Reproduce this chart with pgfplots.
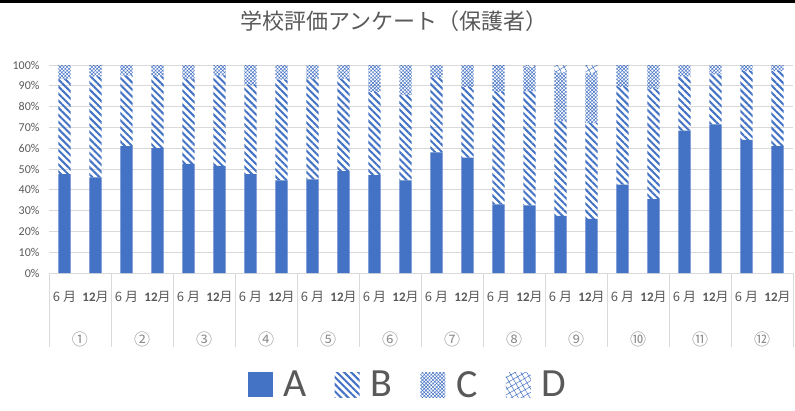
\documentclass[border=0pt]{standalone}
\usepackage{fontspec}
\setmainfont{Carlito}
\newfontfamily\jp{Noto Sans CJK JP}
\usepackage{pgfplots}
\pgfplotsset{compat=1.18}
\usepackage{pgfplotstable}
\usetikzlibrary{patterns.meta}

\definecolor{barblue}{HTML}{4472C4}
\definecolor{txtgray}{HTML}{595959}
\definecolor{lightgray2}{HTML}{8C8C8C}
\definecolor{gridgray}{HTML}{D9D9D9}

% percent per answer, two surveys (June, December) per item
\pgfplotstableread{
x     A    B    C    D
-0.25 47.5 46.0 6.5  0
0.25  46.0 48.5 5.5  0
0.75  61.0 34.0 5.0  0
1.25  60.0 34.5 5.5  0
1.75  52.5 41.0 6.5  0
2.25  51.5 43.5 5.0  0
2.75  47.5 43.0 9.5  0
3.25  44.5 48.5 7.0  0
3.75  45.0 48.5 6.5  0
4.25  49.0 44.5 6.5  0
4.75  47.0 40.0 13.0 0
5.25  44.5 41.0 14.5 0
5.75  58.0 36.0 6.0  0
6.25  55.5 34.0 10.5 0
6.75  33.0 54.0 13.0 0
7.25  32.5 55.0 11.5 1.0
7.75  27.5 45.5 23.5 3.5
8.25  26.0 46.0 24.0 4.0
8.75  42.5 47.0 10.5 0
9.25  35.5 53.0 11.5 0
9.75  68.5 26.0 5.5  0
10.25 71.5 24.0 4.5  0
10.75 64.0 33.0 3.0  0
11.25 61.0 36.0 3.0  0
}\survey

\newcommand\six{{\jp 6 月}}
\newcommand\twelve{\textbf{12}{\jp 月}}

\begin{document}
\begin{tikzpicture}[x=1pt,y=1pt]
\useasboundingbox (0,0) rectangle (795,410);
\fill[black] (0,407) rectangle (795,410);
\node[font=\jp\fontsize{22}{25}\selectfont, text=txtgray] at (394,389) {学校評価アンケート（保護者）};
\begin{axis}[
  at={(49pt,137pt)}, anchor=south west,
  width=744pt, height=208pt, scale only axis,
  ybar stacked, bar width=0.2,
  xmin=-0.5, xmax=11.5, ymin=0, ymax=100,
  clip=false,
  axis x line*=bottom, axis y line*=left,
  x axis line style={draw=gridgray, line width=0.8pt},
  y axis line style={draw=none},
  ymajorgrids, grid style={draw=gridgray, line width=0.8pt},
  major tick length=0,
  ytick={0,10,...,100},
  yticklabels={0\%,10\%,20\%,30\%,40\%,50\%,60\%,70\%,80\%,90\%,100\%},
  yticklabel style={font=\fontsize{12}{14}\selectfont, text=txtgray, xshift=-6pt},
  xtick=data,
  xticklabels={\six,\twelve,\six,\twelve,\six,\twelve,\six,\twelve,\six,\twelve,\six,\twelve,
               \six,\twelve,\six,\twelve,\six,\twelve,\six,\twelve,\six,\twelve,\six,\twelve},
  xticklabel style={font=\fontsize{13}{15}\selectfont, text=txtgray, yshift=-15pt},
  extra x ticks={0,1,2,3,4,5,6,7,8,9,10,11},
  extra x tick labels={①,②,③,④,⑤,⑥,⑦,⑧,⑨,⑩,⑪,⑫},
  extra x tick style={xticklabel style={font=\jp\fontsize{16}{18}\selectfont, text=lightgray2, yshift=-40pt}},
  legend columns=4,
  legend image code/.code={\fill[#1] (0pt,-12.5pt) rectangle (25pt,12.5pt);},
  legend style={at={(axis description cs:0.4825,-0.538)}, anchor=center, draw=none,
    font=\fontsize{40}{44}\selectfont, text=txtgray,
    /tikz/every odd column/.append style={column sep=9pt},
    /tikz/every even column/.append style={column sep=26pt}},
]
\addplot[fill=barblue, draw=none] table[x=x, y=A] {\survey};
\addplot[draw=none, pattern={Lines[angle=-45, distance=5pt, line width=2pt]}, pattern color=barblue] table[x=x, y=B] {\survey};
\addplot[draw=none, pattern={Hatch[angle=45, distance=2.5pt, line width=0.5pt]}, pattern color=barblue] table[x=x, y=C] {\survey};
\addplot[draw=none, pattern={Hatch[angle=30, distance=5pt, line width=0.5pt]}, pattern color=barblue] table[x=x, y=D] {\survey};
\legend{A,B,C,D}
\pgfplotsinvokeforeach{-0.5,0.5,1.5,2.5,3.5,4.5,5.5,6.5,7.5,8.5,9.5,10.5,11.5}{
  \draw[gridgray, line width=0.8pt] (axis cs:#1,0) -- ([yshift=-74pt]axis cs:#1,0);
}
\end{axis}
\end{tikzpicture}
\end{document}
